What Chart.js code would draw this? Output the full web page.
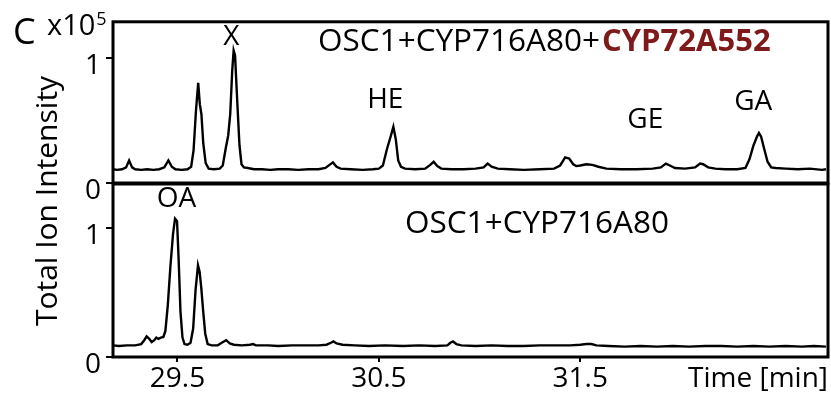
<!DOCTYPE html>
<html>
<head>
<meta charset="utf-8">
<script src="https://cdn.jsdelivr.net/npm/chart.js@4.4.0/dist/chart.umd.min.js"></script>
<style>
  html, body { margin: 0; padding: 0; background: #fff; }
  #wrap { position: relative; width: 831px; height: 394px; }
  #wrap canvas { position: absolute; left: 0; top: 0; }
</style>
</head>
<body>
<div id="wrap">
  <canvas id="topChart" width="831" height="394"></canvas>
  <canvas id="bottomChart" width="831" height="394"></canvas>
</div>
<script>
// retention time window (min) and tick positions
const timeMin = 29.18;
const timeMax = 32.73;
const timeTicks = [29.5, 30.5, 31.5];
const intensityTicks = [0, 1];

// OSC1+CYP716A80+CYP72A552, total ion intensity (x10^5)
const topTimes = [
  29.18, 29.20, 29.225, 29.245, 29.26, 29.275, 29.29, 29.32, 29.35, 29.38,
  29.41, 29.435, 29.455, 29.472, 29.49, 29.52, 29.55, 29.568, 29.58, 29.592,
  29.603, 29.611, 29.619, 29.628, 29.64, 29.655, 29.68, 29.71, 29.725, 29.74,
  29.752, 29.762, 29.772, 29.779, 29.786, 29.797, 29.808, 29.818, 29.83, 29.85,
  29.88, 29.92, 29.96, 30.00, 30.05, 30.10, 30.15, 30.20, 30.235, 30.255,
  30.272, 30.29, 30.31, 30.36, 30.42, 30.47, 30.50, 30.52, 30.54, 30.56,
  30.572, 30.584, 30.596, 30.61, 30.63, 30.68, 30.73, 30.755, 30.772, 30.79,
  30.81, 30.86, 30.92, 30.98, 31.02, 31.04, 31.06, 31.09, 31.15, 31.22,
  31.30, 31.37, 31.40, 31.425, 31.445, 31.465, 31.48, 31.50, 31.53, 31.56,
  31.59, 31.63, 31.70, 31.78, 31.86, 31.90, 31.925, 31.945, 31.97, 32.02,
  32.07, 32.095, 32.11, 32.135, 32.17, 32.22, 32.28, 32.32, 32.34, 32.36,
  32.377, 32.387, 32.398, 32.412, 32.43, 32.448, 32.47, 32.52, 32.58, 32.64,
  32.70, 32.72
];
const topValues = [
  0.11, 0.105, 0.11, 0.125, 0.18, 0.125, 0.11, 0.105, 0.11, 0.105,
  0.11, 0.125, 0.18, 0.13, 0.11, 0.105, 0.11, 0.13, 0.26, 0.58,
  0.80, 0.63, 0.55, 0.32, 0.16, 0.115, 0.11, 0.115, 0.14, 0.28,
  0.38, 0.55, 0.90, 1.06, 1.02, 0.65, 0.30, 0.15, 0.125, 0.12,
  0.11, 0.11, 0.105, 0.11, 0.11, 0.105, 0.11, 0.11, 0.12, 0.145,
  0.165, 0.13, 0.115, 0.11, 0.105, 0.11, 0.115, 0.14, 0.27, 0.38,
  0.45, 0.35, 0.18, 0.13, 0.115, 0.11, 0.115, 0.145, 0.17, 0.135,
  0.115, 0.11, 0.11, 0.115, 0.125, 0.155, 0.13, 0.115, 0.11, 0.105,
  0.11, 0.115, 0.14, 0.205, 0.195, 0.15, 0.135, 0.14, 0.15, 0.145,
  0.13, 0.115, 0.11, 0.11, 0.115, 0.125, 0.155, 0.14, 0.12, 0.115,
  0.125, 0.155, 0.15, 0.125, 0.115, 0.11, 0.11, 0.12, 0.19, 0.30,
  0.37, 0.40, 0.37, 0.28, 0.17, 0.125, 0.12, 0.115, 0.11, 0.115,
  0.105, 0.11
];

// OSC1+CYP716A80, total ion intensity (x10^5)
const bottomTimes = [
  29.18, 29.21, 29.25, 29.29, 29.32, 29.335, 29.347, 29.36, 29.372, 29.385,
  29.395, 29.405, 29.418, 29.43, 29.44, 29.452, 29.465, 29.478, 29.488, 29.498,
  29.506, 29.515, 29.525, 29.535, 29.55, 29.565, 29.578, 29.59, 29.602, 29.61,
  29.618, 29.628, 29.638, 29.65, 29.67, 29.70, 29.72, 29.742, 29.76, 29.78,
  29.82, 29.86, 29.875, 29.89, 29.95, 30.00, 30.07, 30.14, 30.20, 30.24,
  30.262, 30.275, 30.29, 30.32, 30.38, 30.45, 30.53, 30.62, 30.70, 30.78,
  30.84, 30.855, 30.868, 30.885, 30.91, 30.98, 31.06, 31.14, 31.22, 31.30,
  31.38, 31.45, 31.50, 31.53, 31.555, 31.58, 31.64, 31.72, 31.80, 31.88,
  31.96, 32.04, 32.12, 32.20, 32.28, 32.36, 32.44, 32.52, 32.60, 32.66,
  32.72
];
const bottomValues = [
  0.09, 0.085, 0.09, 0.09, 0.10, 0.13, 0.16, 0.14, 0.115, 0.13,
  0.15, 0.14, 0.15, 0.155, 0.20, 0.40, 0.70, 0.95, 1.07, 1.05,
  0.75, 0.35, 0.15, 0.10, 0.095, 0.11, 0.22, 0.52, 0.71, 0.66,
  0.54, 0.35, 0.18, 0.10, 0.09, 0.09, 0.11, 0.13, 0.105, 0.095,
  0.09, 0.095, 0.10, 0.09, 0.09, 0.085, 0.09, 0.09, 0.09, 0.095,
  0.11, 0.12, 0.105, 0.095, 0.09, 0.085, 0.09, 0.085, 0.09, 0.085,
  0.09, 0.11, 0.12, 0.10, 0.09, 0.085, 0.09, 0.085, 0.085, 0.09,
  0.09, 0.09, 0.095, 0.10, 0.10, 0.09, 0.085, 0.08, 0.085, 0.08,
  0.085, 0.08, 0.085, 0.085, 0.08, 0.085, 0.08, 0.085, 0.08, 0.085,
  0.08
];

// peak names, placed in data units of their own panel
const topPeakNames = ['X', 'HE', 'GE', 'GA'];
const topPeakTimes = [29.768, 30.532, 31.823, 32.359];
const topPeakLevels = [1.165, 0.667, 0.504, 0.645];
const bottomPeakNames = ['OA'];
const bottomPeakTimes = [29.495];
const bottomPeakLevels = [1.222];

const FONT = "'Open Sans', 'Noto Sans', sans-serif";

const framePlugin = {
  id: 'frame',
  afterDatasetsDraw(chart) {
    const { ctx, chartArea: a } = chart;
    ctx.save();
    ctx.strokeStyle = '#000';
    ctx.lineWidth = 3;
    ctx.strokeRect(a.left, a.top, a.right - a.left, a.bottom - a.top);
    ctx.restore();
  }
};

const peakLabelPlugin = {
  id: 'peakLabels',
  afterDraw(chart, args, opts) {
    const { ctx, scales } = chart;
    ctx.save();
    ctx.fillStyle = '#000';
    ctx.font = '28px ' + FONT;
    ctx.textAlign = 'center';
    ctx.textBaseline = 'middle';
    opts.names.forEach((name, i) => {
      ctx.fillText(name, scales.x.getPixelForValue(opts.times[i]), scales.y.getPixelForValue(opts.levels[i]));
    });
    ctx.restore();
  }
};

// fixed texts around the panels
const pageTextPlugin = {
  id: 'pageText',
  afterDraw(chart) {
    const ctx = chart.ctx;
    ctx.save();
    ctx.fillStyle = '#000';
    ctx.textBaseline = 'alphabetic';

    ctx.font = '36px ' + FONT;
    ctx.fillText('C', 13, 44);
    ctx.font = '29px ' + FONT;
    ctx.fillText('x10', 47, 35);
    const xw = ctx.measureText('x10').width;
    ctx.font = '18px ' + FONT;
    ctx.fillText('5', 47 + xw + 1, 25);

    // panel titles
    ctx.font = '31.5px ' + FONT;
    const first = 'OSC1+CYP716A80+';
    ctx.fillText(first, 318, 51);
    const w = ctx.measureText(first).width;
    ctx.font = 'bold 31px ' + FONT;
    ctx.fillStyle = '#7e1a1a';
    ctx.fillText('CYP72A552', 318 + w + 2, 51);
    ctx.fillStyle = '#000';
    ctx.font = '31.5px ' + FONT;
    ctx.fillText('OSC1+CYP716A80', 405, 233);

    // axis titles
    ctx.font = '28px ' + FONT;
    ctx.textAlign = 'right';
    ctx.fillText('Time [min]', 828, 387);

    ctx.font = '30px ' + FONT;
    ctx.translate(57, 201);
    ctx.rotate(-Math.PI / 2);
    ctx.textAlign = 'center';
    ctx.fillText('Total Ion Intensity', 0, 0);
    ctx.restore();
  }
};

function toPoints(times, values) {
  return times.map((t, i) => ({ x: t, y: values[i] }));
}

function makePanel(id, times, values, yMax, showTime, peaks, extraPlugins) {
  return new Chart(document.getElementById(id), {
    type: 'line',
    data: {
      datasets: [{
        data: toPoints(times, values),
        borderColor: '#000',
        borderWidth: 2.4,
        pointRadius: 0,
        tension: 0,
        fill: false
      }]
    },
    options: {
      responsive: false,
      animation: false,
      events: [],
      layout: {
        padding: showTime
          ? { left: 0, right: 3, top: 184, bottom: 0 }
          : { left: 0, right: 3, top: 9, bottom: 211 }
      },
      scales: {
        x: {
          type: 'linear',
          min: timeMin,
          max: timeMax,
          display: showTime,
          afterBuildTicks: (s) => { s.ticks = timeTicks.map(v => ({ value: v })); },
          afterFit: (s) => { if (showTime) s.height = 37; },
          grid: { drawOnChartArea: false, drawTicks: true, tickLength: 5, color: '#000', lineWidth: 2 },
          border: { display: false },
          ticks: {
            color: '#000',
            font: { family: FONT, size: 28 },
            padding: 0,
            maxRotation: 0,
            callback: (v) => v.toFixed(1)
          }
        },
        y: {
          type: 'linear',
          min: 0,
          max: yMax,
          afterBuildTicks: (s) => { s.ticks = intensityTicks.map(v => ({ value: v })); },
          afterFit: (s) => { s.width = 113; },
          grid: { drawOnChartArea: false, drawTicks: true, tickLength: 7, color: '#000', lineWidth: 2 },
          border: { display: false },
          ticks: {
            color: '#000',
            font: { family: FONT, size: 28 },
            padding: 5,
            labelOffset: 8,
            callback: (v) => String(v)
          }
        }
      },
      plugins: {
        legend: { display: false },
        tooltip: { enabled: false },
        peakLabels: peaks
      }
    },
    plugins: [framePlugin, peakLabelPlugin].concat(extraPlugins)
  });
}

makePanel('topChart', topTimes, topValues, 1.289, false,
  { names: topPeakNames, times: topPeakTimes, levels: topPeakLevels }, []);
makePanel('bottomChart', bottomTimes, bottomValues, 1.338, true,
  { names: bottomPeakNames, times: bottomPeakTimes, levels: bottomPeakLevels }, [pageTextPlugin]);
</script>
</body>
</html>
